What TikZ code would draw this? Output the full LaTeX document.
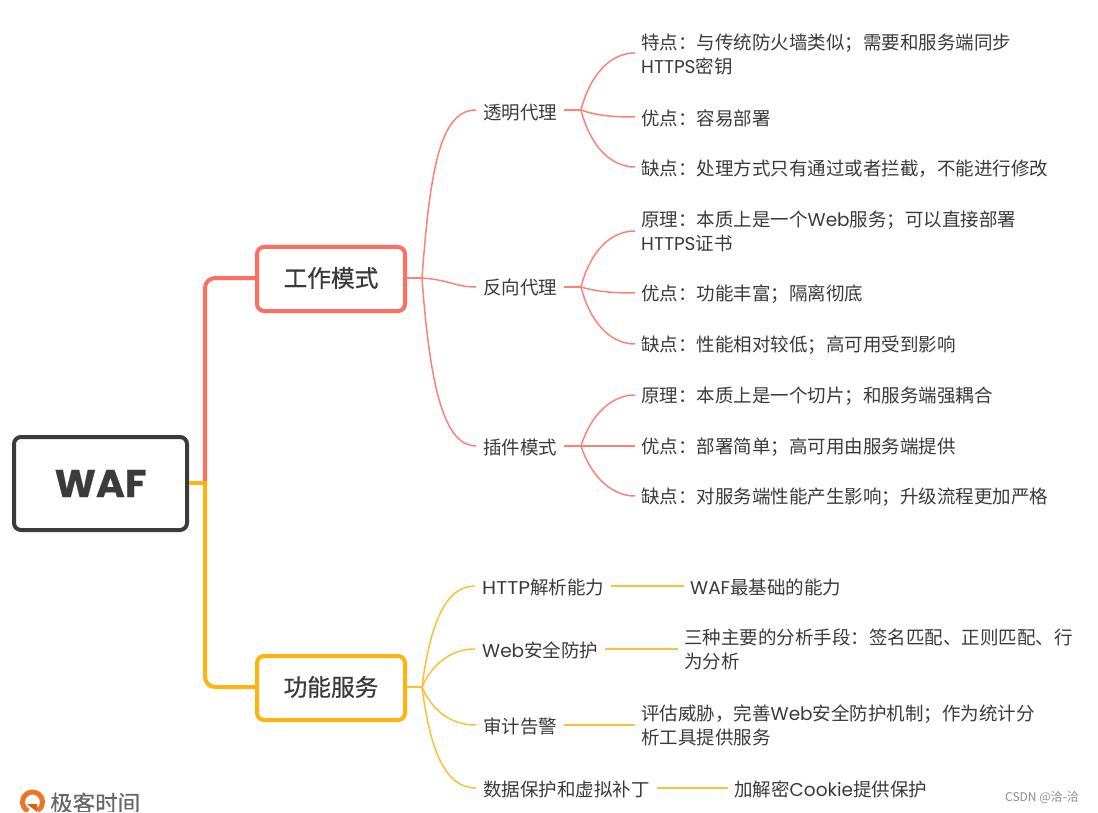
\documentclass[tikz,border=0pt]{standalone}
\usepackage{xcolor}
\usepackage{fontspec}
\usepackage{tikz}
\setmainfont{Noto Sans CJK SC}
\newfontfamily\latfont{Poppins}
\newfontfamily\widefont{Poppins}[FakeStretch=1.1]
\newfontfamily\rootfont{Poppins Bold}[FakeBold=0.5,FakeStretch=1.02]
\newfontfamily\midfont{Noto Sans CJK SC}[FakeBold=0.6]
\newfontfamily\brandfont{Noto Sans CJK SC}[FakeBold=0.3]
\newcommand{\lat}[1]{{\latfont #1}}
\definecolor{TextDark}{HTML}{3A3A3A}
\definecolor{RootDark}{HTML}{3B3B3B}
\definecolor{CoralRed}{HTML}{FF6F61}
\definecolor{CoralSoft}{HTML}{FF8175}
\definecolor{AmberYellow}{HTML}{FFB30F}
\definecolor{AmberSoft}{HTML}{FFBE3A}
\definecolor{LogoOrange}{HTML}{EE7523}
\definecolor{LogoDeep}{HTML}{D9601A}
\tikzset{
  rootnode/.style={
    draw=RootDark,fill=white,rounded corners=7pt,line width=4pt,
    minimum width=173pt,minimum height=93pt,
    font=\fontsize{38.5}{44}\selectfont\rootfont,text=RootDark,
    align=center,inner sep=0pt
  },
  worknode/.style={
    draw=CoralRed,fill=white,rounded corners=7pt,line width=4pt,
    minimum width=148pt,minimum height=64pt,
    font=\fontsize{23.7}{28}\selectfont\midfont,text=TextDark,
    text depth=4pt,align=center,inner sep=0pt
  },
  funcnode/.style={worknode,draw=AmberYellow},
  midnode/.style={
    font=\fontsize{18.5}{24}\selectfont,text=TextDark,
    anchor=west,align=left,inner xsep=7pt,inner ysep=2pt,
    execute at begin node={\rule{0pt}{18pt}}
  },
  leafnode/.style={
    font=\fontsize{18.5}{24}\selectfont,text=TextDark,
    anchor=west,align=left,inner xsep=6pt,inner ysep=2pt,
    execute at begin node={\rule{0pt}{18pt}}
  },
  trunkred/.style={draw=CoralRed,line width=4pt,rounded corners=10pt},
  trunkyel/.style={draw=AmberYellow,line width=4pt,rounded corners=10pt},
  twigred/.style={draw=CoralSoft,line width=1.5pt},
  twigyel/.style={draw=AmberSoft,line width=1.5pt},
}
\begin{document}
\begin{tikzpicture}[x=1pt,y=-1pt]
  \useasboundingbox (0,0) rectangle (1098,813);
  \node[rootnode] (waf) at (100.5,483.5) {WAF};
  \node[worknode] (work) at (331,279) {工作模式};
  \node[funcnode] (func) at (331,688) {功能服务};
  \coordinate (wafhub) at (205,482.5);
  \coordinate (workhub) at (422,278);
  \coordinate (funchub) at (422,687);
  \draw[trunkred] (wafhub) -- (205,278) -- (work.west |- 0,278);
  \draw[trunkyel] (wafhub) -- (205,687) -- (func.west |- 0,687);
  \draw[draw=AmberYellow,line width=4pt] (waf.east |- wafhub) -- ([xshift=2pt]wafhub);
  \node[midnode] (proxy) at (476,111) {透明代理};
  \node[midnode] (reverse) at (476,286) {反向代理};
  \node[midnode] (plugin) at (476,446) {插件模式};
  \node[midnode] (http) at (475,586) {{\widefont HTTP}解析能力};
  \node[midnode] (web) at (475,649) {\lat{Web}安全防护};
  \node[midnode] (audit) at (476,725) {审计告警};
  \node[midnode] (data) at (476,788) {数据保护和虚拟补丁};
  \node[leafnode] (p1) at (635,54) {特点：与传统防火墙类似；需要和服务端同步\\\lat{HTTPS}密钥};
  \node[leafnode] (p2) at (635,117) {优点：容易部署};
  \node[leafnode] (p3) at (635,167) {缺点：处理方式只有通过或者拦截，不能进行修改};
  \node[leafnode] (r1) at (635,231) {原理：本质上是一个\lat{Web}服务；可以直接部署\\\lat{HTTPS}证书};
  \node[leafnode] (r2) at (635,293) {优点：功能丰富；隔离彻底};
  \node[leafnode] (r3) at (635,344) {缺点：性能相对较低；高可用受到影响};
  \node[leafnode] (g1) at (635,395) {原理：本质上是一个切片；和服务端强耦合};
  \node[leafnode] (g2) at (635,446) {优点：部署简单；高可用由服务端提供};
  \node[leafnode] (g3) at (635,496) {缺点：对服务端性能产生影响；升级流程更加严格};
  \node[leafnode] (n1) at (684,586) {\lat{WAF}最基础的能力};
  \node[leafnode] (n2) at (678,649) {三种主要的分析手段：签名匹配、正则匹配、行\\为分析};
  \node[leafnode] (n3) at (635,725) {评估威胁，完善\lat{Web}安全防护机制；作为统计分\\析工具提供服务};
  \node[leafnode] (n4) at (728,788) {加解密\lat{Cookie}提供保护};
  \coordinate (proxyhub) at (581,110);
  \coordinate (reversehub) at (581,287);
  \coordinate (pluginhub) at (581,446);
  \draw[twigred] (work.east |- workhub) -- (workhub);
  \draw[twigred] (workhub) .. controls (430,170) and (440,110) .. (proxy.west |- proxyhub);
  \draw[twigred] (workhub) .. controls (450,280) and (455,287) .. (reverse.west |- reversehub);
  \draw[twigred] (workhub) .. controls (430,390) and (445,446) .. (plugin.west |- pluginhub);
  \draw[twigred] (proxy.east |- proxyhub) -- (proxyhub);
  \draw[twigred] (proxyhub) .. controls (590,75) and (610,53) .. (p1.west |- 0,53);
  \draw[twigred] (proxyhub) .. controls (598,116) and (615,117) .. (p2.west);
  \draw[twigred] (proxyhub) .. controls (590,145) and (610,167) .. (p3.west);
  \draw[twigred] (reverse.east |- reversehub) -- (reversehub);
  \draw[twigred] (reversehub) .. controls (590,252) and (610,231) .. (r1.west);
  \draw[twigred] (reversehub) .. controls (598,292) and (615,293) .. (r2.west);
  \draw[twigred] (reversehub) .. controls (590,322) and (610,344) .. (r3.west);
  \draw[twigred] (plugin.east |- pluginhub) -- (pluginhub);
  \draw[twigred] (pluginhub) .. controls (590,417) and (610,395) .. (g1.west);
  \draw[twigred] (pluginhub) -- (g2.west);
  \draw[twigred] (pluginhub) .. controls (590,474) and (610,496) .. (g3.west);
  \draw[twigyel] (func.east |- funchub) -- (funchub);
  \draw[twigyel] (funchub) .. controls (430,625) and (445,586) .. (http.west);
  \draw[twigyel] (funchub) .. controls (432,665) and (450,649) .. (web.west);
  \draw[twigyel] (funchub) .. controls (432,710) and (450,725) .. (audit.west);
  \draw[twigyel] (funchub) .. controls (430,750) and (445,788) .. (data.west);
  \draw[twigyel] (http.east) -- (n1.west);
  \draw[twigyel] (web.east) -- (n2.west);
  \draw[twigyel] (audit.east) -- (n3.west);
  \draw[twigyel] (data.east) -- (n4.west);
  \draw[LogoOrange,line width=5pt] (32.5,802) ++(60:10) arc (60:-245:10);
  \fill[LogoDeep] (27,804) -- (37,804) -- (37,812) -- cycle;
  \node[font=\fontsize{22.5}{26}\selectfont\brandfont,text=black!60,anchor=west,inner sep=0pt] (brand) at (50,803) {极客时间};
  \node[font=\fontsize{12}{14}\selectfont,text=black!45,anchor=west,inner sep=0pt] (mark) at (1005,798) {CSDN @洽-洽};
  \fill[white] (0,812) rectangle (1098,813);
\end{tikzpicture}
\end{document}
